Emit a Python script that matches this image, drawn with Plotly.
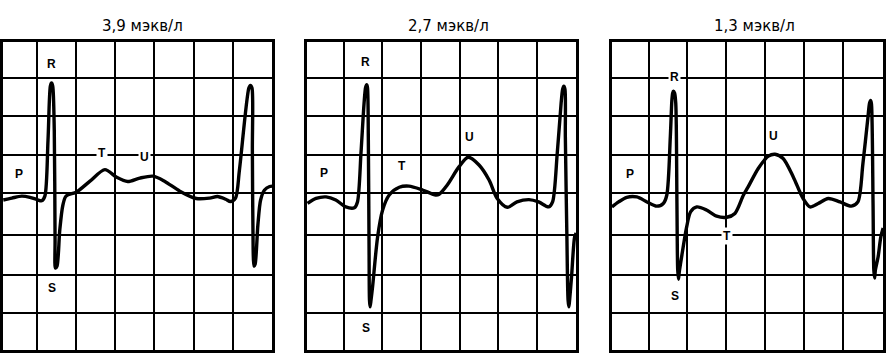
import plotly.graph_objects as go

# Titles (potassium level)
titles = ["3,9 мэкв/л", "2,7 мэкв/л", "1,3 мэкв/л"]

# ECG traces, in grid squares (x: time from first vertical grid line, y: from bottom of strip)
t1 = [-0.85, -0.63, -0.38, -0.17, 0.01, 0.13, 0.21, 0.29, 0.35, 0.38, 0.41, 0.45, 0.47, 0.48, 0.52,
      0.59, 0.67, 0.75, 1.02, 1.36, 1.74, 2.04, 2.32, 2.63, 2.97, 3.26, 3.65, 4.07, 4.41, 4.61, 4.82,
      4.94, 5.07, 5.17, 5.41, 5.45, 5.49, 5.50, 5.52, 5.54, 5.57, 5.64, 5.71, 5.81, 5.94, 6.01]
v1 = [3.90, 3.95, 4.00, 3.97, 3.91, 3.88, 4.00, 5.45, 6.86, 6.94, 6.86, 5.71, 2.86, 2.13, 2.18,
      3.12, 3.77, 4.00, 4.11, 4.39, 4.69, 4.49, 4.38, 4.47, 4.52, 4.39, 4.13, 3.94, 3.95, 3.99, 3.92,
      3.86, 3.95, 4.68, 6.81, 6.88, 6.81, 5.19, 2.60, 2.18, 2.23, 3.25, 3.90, 4.16, 4.25, 4.26]

t2 = [-0.93, -0.71, -0.45, -0.20, 0.06, 0.28, 0.36, 0.45, 0.53, 0.57, 0.60, 0.62, 0.64, 0.66, 0.67,
      0.685, 0.71, 0.75, 0.88, 1.01, 1.18, 1.44, 1.69, 2.04, 2.38, 2.47, 2.68, 2.98, 3.22, 3.50, 3.76,
      3.97, 4.23, 4.48, 4.79, 5.04, 5.30, 5.40, 5.52, 5.62, 5.66, 5.69, 5.72, 5.73, 5.77, 5.80, 5.82,
      5.84, 5.89, 5.97, 6.01]
v2 = [3.81, 3.94, 3.98, 3.90, 3.72, 3.70, 3.85, 5.11, 6.41, 6.83, 6.90, 6.81, 5.54, 2.52, 1.30,
      1.12, 1.30, 1.64, 2.94, 3.64, 4.03, 4.23, 4.26, 4.16, 4.03, 4.05, 4.29, 4.76, 5.01, 4.81, 4.42,
      3.94, 3.71, 3.85, 3.91, 3.85, 3.72, 3.85, 5.11, 6.41, 6.78, 6.86, 6.78, 5.54, 2.94, 1.30, 1.12,
      1.30, 1.90, 2.94, 3.04]

t3 = [-0.94, -0.77, -0.56, -0.30, -0.04, 0.21, 0.38, 0.47, 0.56, 0.60, 0.62, 0.64, 0.67, 0.70, 0.73,
      0.75, 0.77, 0.79, 0.85, 0.98, 1.08, 1.24, 1.49, 1.75, 2.01, 2.22, 2.44, 2.56, 2.82, 3.08, 3.25,
      3.46, 3.72, 3.97, 4.15, 4.36, 4.62, 4.92, 5.21, 5.38, 5.51, 5.64, 5.68, 5.71, 5.73, 5.77, 5.79,
      5.81, 5.83, 5.90, 5.97, 6.03]
v3 = [3.72, 3.85, 3.97, 3.98, 3.85, 3.74, 3.81, 4.03, 5.54, 6.49, 6.68, 6.73, 6.68, 6.41, 3.81,
      2.08, 1.84, 2.03, 2.42, 3.20, 3.59, 3.72, 3.64, 3.48, 3.45, 3.55, 4.03, 4.24, 4.72, 5.04, 5.09,
      4.98, 4.50, 3.94, 3.72, 3.81, 3.94, 3.85, 3.74, 3.85, 4.85, 6.06, 6.42, 6.49, 6.39, 3.81, 2.08,
      1.87, 2.08, 2.42, 2.94, 3.17]

times = [t1, t2, t3]
volts = [v1, v2, v3]

# Wave labels per panel: (letter, x, y) in grid squares
wave_labels = [
    [("R", 0.38, 7.43), ("T", 1.66, 5.12), ("U", 2.74, 5.01), ("P", -0.44, 4.57), ("S", 0.39, 1.62)],
    [("R", 0.58, 7.50), ("T", 1.52, 4.78), ("U", 3.26, 5.54), ("P", -0.50, 4.61), ("S", 0.58, 0.58)],
    [("R", 0.67, 7.09), ("T", 2.01, 2.97), ("U", 3.21, 5.57), ("P", -0.47, 4.57), ("S", 0.69, 1.41)],
]

# Grid
x_grid = [0, 1, 2, 3, 4, 5]
y_grid = [0.95, 1.95, 3.0, 4.08, 5.08, 6.08, 7.08]
x_ranges = [[-0.865, 6.01], [-0.954, 6.005], [-0.941, 6.026]]
y_range = [0, 8]

W, H = 886, 354
x_domains = [[2.7 / W, 273 / W], [307.3 / W, 577.3 / W], [613.3 / W, 885 / W]]
y_domain = [4 / H, 311.7 / H]
title_x = [142.5 / W, 449.2 / W, 755.8 / W]
title_y = 1 - 25.5 / H

fig = go.Figure()
for i in range(3):
    sfx = "" if i == 0 else str(i + 1)
    fig.add_trace(go.Scatter(
        x=times[i], y=volts[i], mode="lines",
        line=dict(color="black", width=3.4, shape="spline", smoothing=0.8),
        xaxis="x" + sfx, yaxis="y" + sfx, showlegend=False, hoverinfo="skip"))
    axcommon = dict(showticklabels=False, ticks="", zeroline=False, showgrid=True,
                    gridcolor="black", gridwidth=1.8, showline=True, linecolor="black",
                    linewidth=2.8, mirror=True, fixedrange=True)
    fig.update_layout(**{
        "xaxis" + sfx: dict(domain=x_domains[i], range=x_ranges[i], tickmode="array",
                            tickvals=x_grid, anchor="y" + sfx, **axcommon),
        "yaxis" + sfx: dict(domain=y_domain, range=y_range, tickmode="array",
                            tickvals=y_grid, anchor="x" + sfx, **axcommon),
    })
    fig.add_annotation(text=titles[i], x=title_x[i], y=title_y, xref="paper", yref="paper",
                       showarrow=False, xanchor="center", yanchor="middle",
                       font=dict(family="DejaVu Sans", size=15, color="black"))
    for (lab, lx, ly) in wave_labels[i]:
        fig.add_annotation(text=lab, x=lx, y=ly, xref="x" + sfx, yref="y" + sfx,
                           showarrow=False, xanchor="center", yanchor="middle",
                           bgcolor="white", borderpad=1,
                           font=dict(family="Liberation Sans", size=12, color="black", weight="bold"))

fig.update_layout(width=W, height=H, margin=dict(l=0, r=0, t=0, b=0),
                  paper_bgcolor="white", plot_bgcolor="white")
fig.write_html("out.html")
